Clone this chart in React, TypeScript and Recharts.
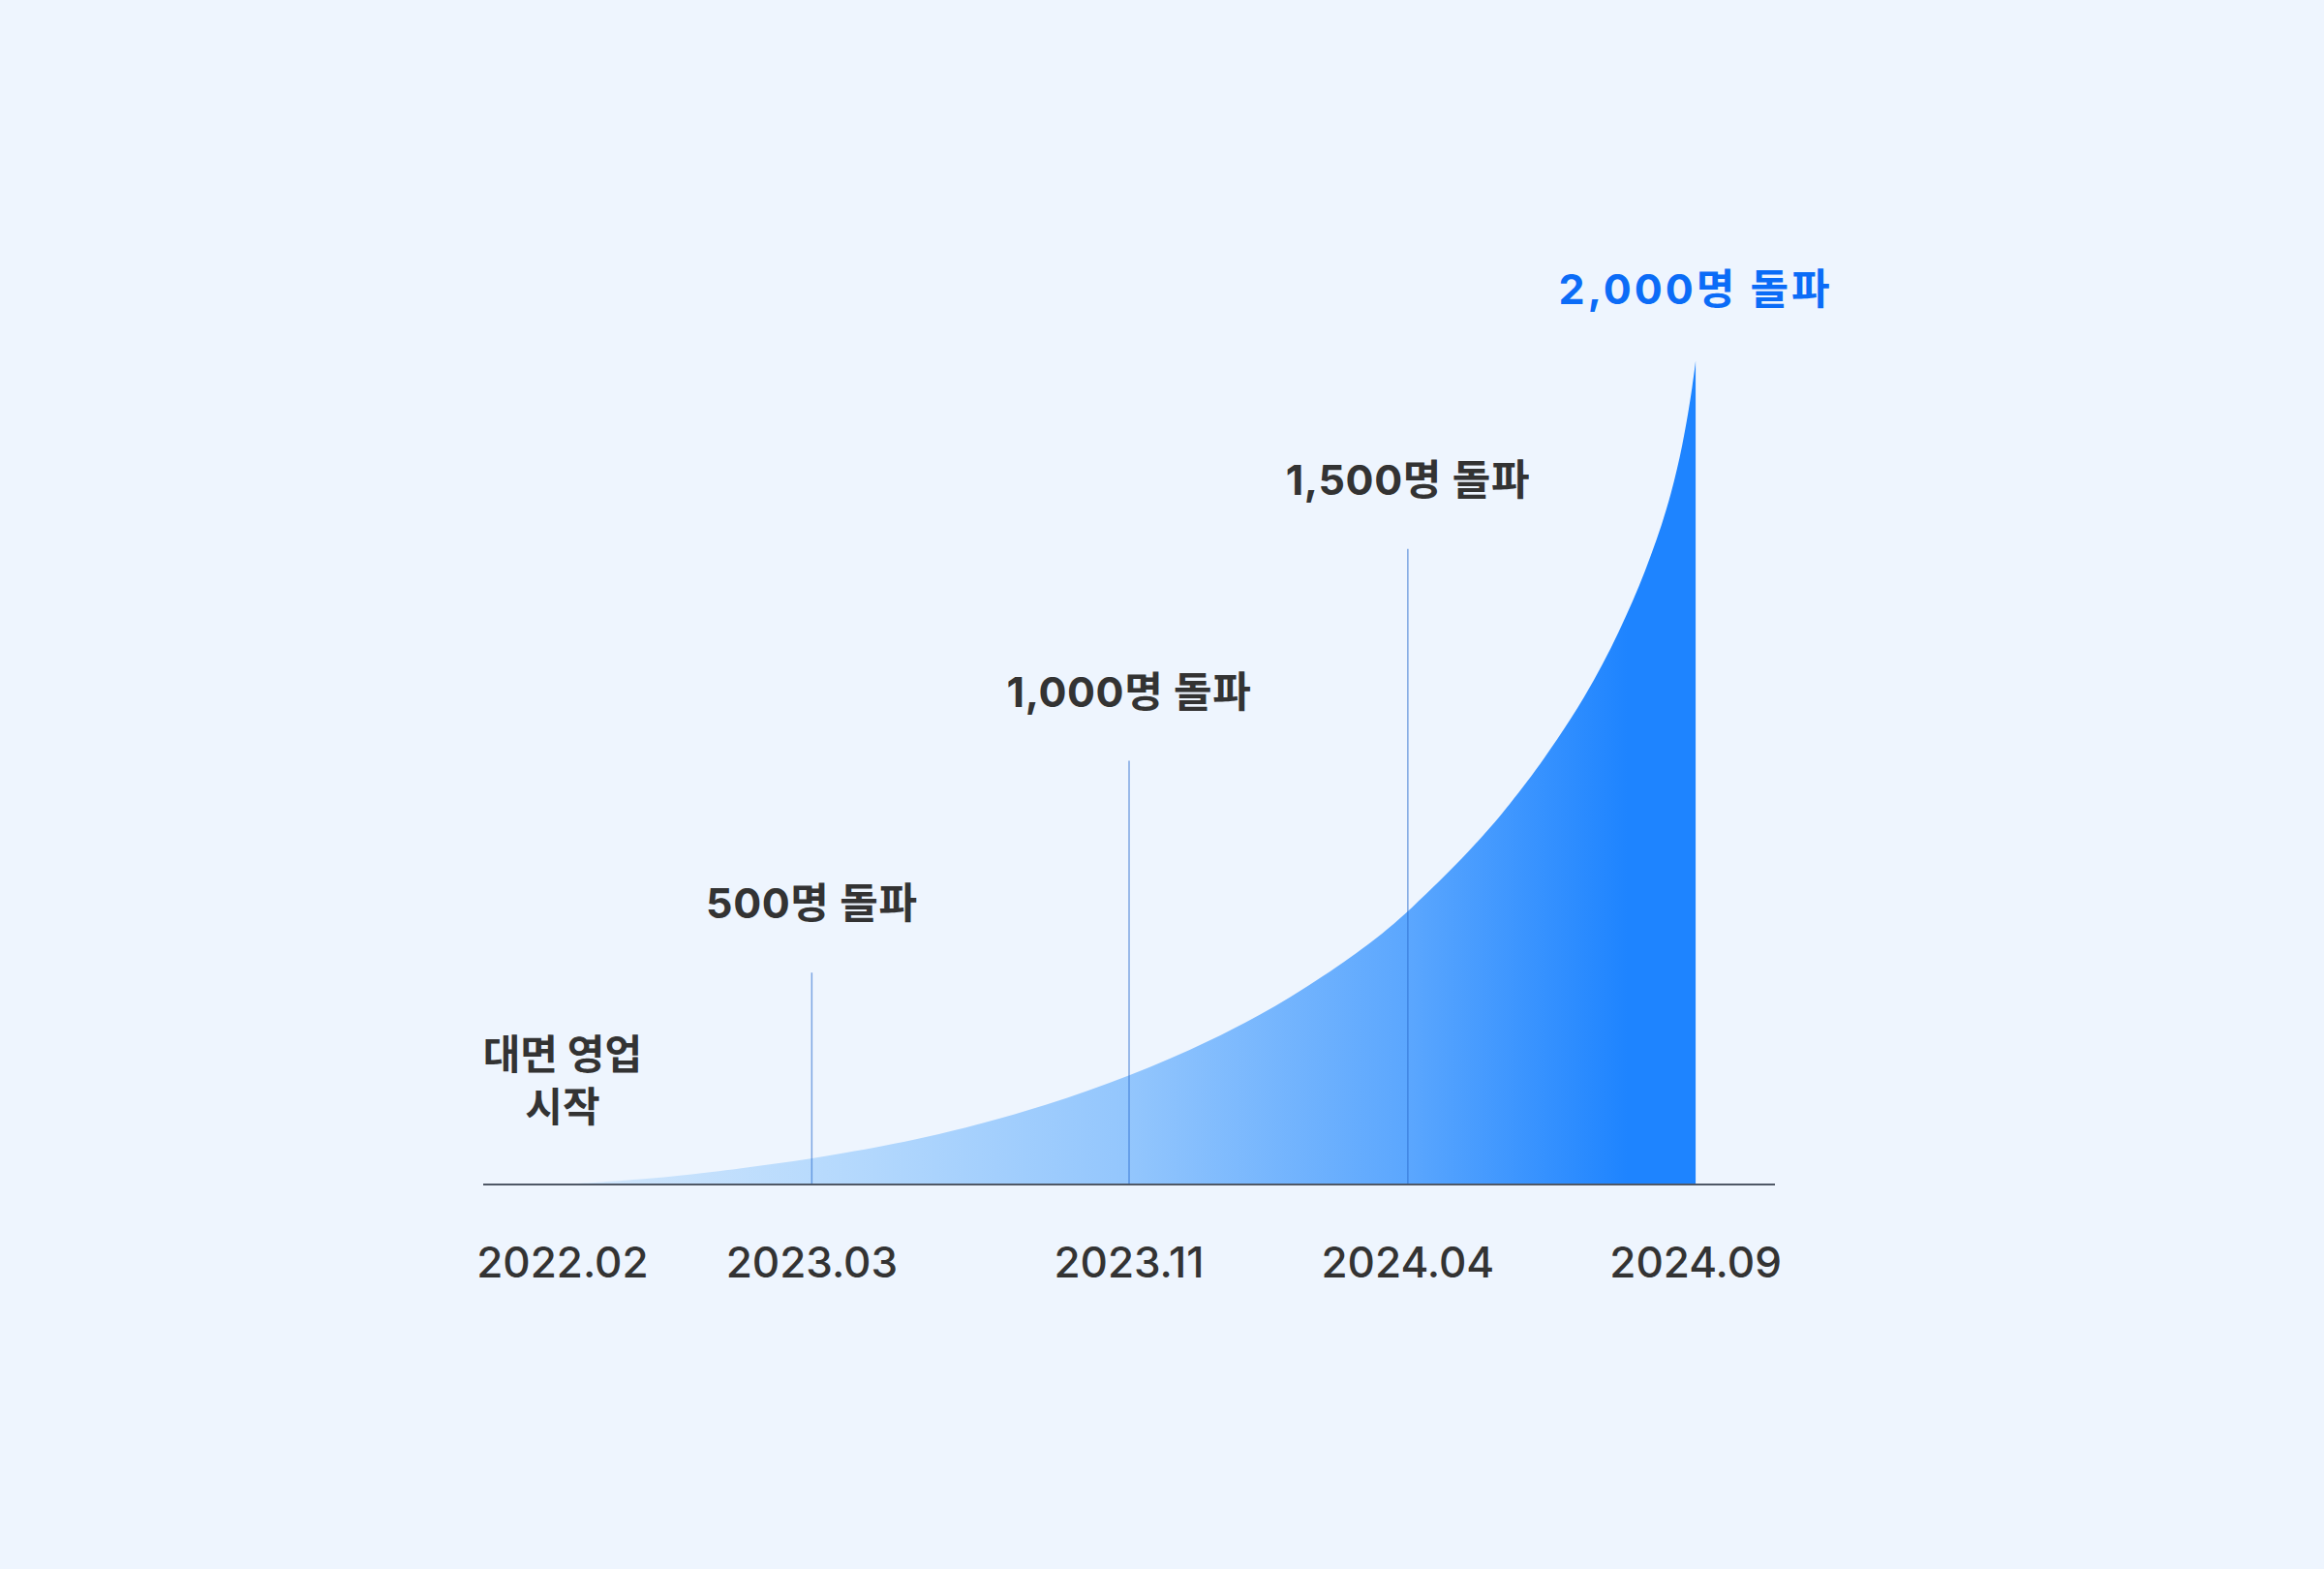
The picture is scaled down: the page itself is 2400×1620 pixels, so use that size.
import React from 'react';
import {
  ComposedChart,
  Area,
  XAxis,
  YAxis,
  ReferenceLine,
  ReferenceDot
} from 'recharts';

// timeline position (2022.02 = 0, 2024.09 = 100)
const tickPositions = [0, 22, 50, 74.6, 100];
const tickLabels = ['2022.02', '2023.03', '2023.11', '2024.04', '2024.09'];

// growth curve
const curveX = [0, 6.8, 12.6, 22.1, 29.6, 35.3, 42.7, 50.1, 57, 64.3, 71.1, 74.6, 80.3, 83.7, 86.5, 90.3, 93.3, 95.6, 97.5, 98.9, 99.8, 100];
const curveValues = [0, 11, 27, 60, 97, 131, 186, 256, 335, 439, 564, 642, 792, 900, 999, 1150, 1305, 1448, 1592, 1745, 1898, 1944];

// milestones
const milestoneX = [22, 50, 74.6];
const milestoneValues = [500, 1000, 1500];
const milestoneLabels = ['500명 돌파', '1,000명 돌파', '1,500명 돌파'];

const startLabel = ['대면 영업', '시작'];
const finalLabel = '2,000명 돌파';

const FONT = "Inter, 'Noto Sans CJK KR', sans-serif";

const data = curveX.map((x, i) => ({ x, value: curveValues[i] }));

const TopLabel = ({ viewBox, text, color, spacing = 0.6, gap = 56 }: any) => {
  const cx = viewBox.x + viewBox.width / 2;
  return (
    <text
      x={cx}
      y={viewBox.y - gap}
      textAnchor="middle"
      fontFamily={FONT}
      fontSize={43}
      fontWeight={700}
      letterSpacing={spacing}
      fill={color}
    >
      {text}
    </text>
  );
};

const StartLabel = ({ viewBox }: any) => {
  const cx = viewBox.x + viewBox.width / 2;
  return (
    <text textAnchor="middle" fontFamily={FONT} fontSize={42} fontWeight={700} fill="#333333">
      <tspan x={cx} y={viewBox.y - 119}>{startLabel[0]}</tspan>
      <tspan x={cx} y={viewBox.y - 65}>{startLabel[1]}</tspan>
    </text>
  );
};

const DateTick = ({ x, y, payload }: any) => {
  const idx = tickPositions.indexOf(payload.value);
  return (
    <text
      x={x}
      y={y + 96}
      textAnchor="middle"
      fontFamily={FONT}
      fontSize={44}
      fontWeight={500}
      fill="#333333"
    >
      {tickLabels[idx]}
    </text>
  );
};

export default function App() {
  return (
    <div style={{ position: 'absolute', left: 0, top: 0, width: 2400, height: 1620, background: '#eef5fe' }}>
      <ComposedChart
        width={2400}
        height={1620}
        data={data}
        margin={{ top: 348, right: 567, bottom: 297, left: 499 }}
      >
        <defs>
          <linearGradient id="growFill" x1="0" y1="0" x2="1" y2="0">
            <stop offset="0%" stopColor="#d2e7fc" />
            <stop offset="25%" stopColor="#b5d9fd" />
            <stop offset="50%" stopColor="#93c6fd" />
            <stop offset="75%" stopColor="#5aa6fe" />
            <stop offset="94%" stopColor="#1e84ff" />
            <stop offset="100%" stopColor="#1e84ff" />
          </linearGradient>
        </defs>
        <XAxis
          dataKey="x"
          type="number"
          domain={[-7, 107]}
          ticks={tickPositions}
          interval={0}
          height={100}
          tickLine={false}
          tickSize={0}
          tickMargin={0}
          axisLine={{ stroke: '#4f5866', strokeWidth: 2 }}
          tick={<DateTick />}
          allowDataOverflow
        />
        <YAxis type="number" domain={[0, 2000]} hide allowDataOverflow />
        <Area
          type="basis"
          dataKey="value"
          stroke="none"
          fill="url(#growFill)"
          fillOpacity={1}
          isAnimationActive={false}
        />
        {milestoneX.map((mx, i) => (
          <ReferenceLine
            key={'l' + i}
            segment={[{ x: mx, y: 0 }, { x: mx, y: milestoneValues[i] }]}
            stroke="#2f6fcf"
            strokeOpacity={0.6}
            strokeWidth={1.5}
          />
        ))}
        {milestoneX.map((mx, i) => (
          <ReferenceDot
            key={'d' + i}
            x={mx}
            y={milestoneValues[i]}
            r={0}
            stroke="none"
            fill="none"
            label={<TopLabel text={milestoneLabels[i]} color="#333333" />}
          />
        ))}
        <ReferenceDot
          x={curveX[curveX.length - 1]}
          y={curveValues[curveValues.length - 1]}
          r={0}
          stroke="none"
          fill="none"
          label={<TopLabel text={finalLabel} color="#0b6cf7" spacing={3} gap={59} />}
        />
        <ReferenceDot x={0} y={0} r={0} stroke="none" fill="none" label={<StartLabel />} />
      </ComposedChart>
    </div>
  );
}
